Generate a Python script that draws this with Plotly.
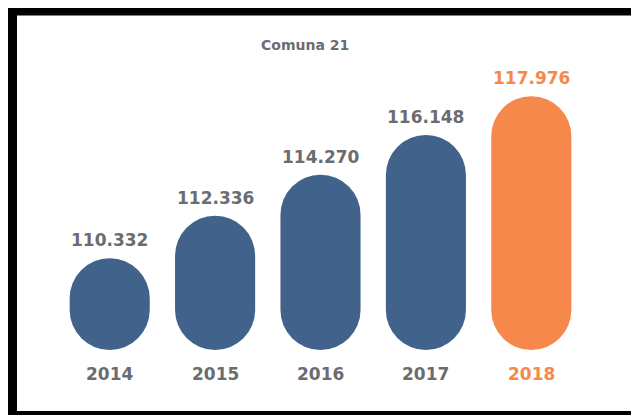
import plotly.graph_objects as go

# DATA
years = ["2014", "2015", "2016", "2017", "2018"]
values = [110.332, 112.336, 114.270, 116.148, 117.976]
labels = ["110.332", "112.336", "114.270", "116.148", "117.976"]
title_text = "Comuna 21"

BLUE = "#41628a"
ORANGE = "#f5884a"
GREY = "#6b6c70"
colors = [BLUE, BLUE, BLUE, BLUE, ORANGE]
text_colors = [GREY, GREY, GREY, GREY, ORANGE]

base = 106.0
W, H = 639, 415
# page body has an 8px margin, so everything is laid out 8px up/left
ml, mr, mt, mb = 49, 63, 12, 73
pw, ph = W - ml - mr, H - mt - mb

fig = go.Figure()
# bars with an explicit base get all four corners rounded -> pill shape
fig.add_trace(go.Bar(
    x=years, y=[v - base for v in values], base=base,
    marker=dict(color=colors, cornerradius="50%", line=dict(width=0)),
    width=0.76, hoverinfo="skip",
))

# value labels above, year labels below
for i, (v, lab, c) in enumerate(zip(values, labels, text_colors)):
    fig.add_annotation(x=i, y=v, text=f"<b>{lab}</b>", showarrow=False,
                       yanchor="bottom", yshift=6,
                       font=dict(family="DejaVu Sans", size=17, color=c))
    fig.add_annotation(x=i, y=base + 0.01, text=f"<b>{years[i]}</b>",
                       showarrow=False, yanchor="top", yshift=-12,
                       font=dict(family="DejaVu Sans", size=17, color=c))

fig.add_annotation(x=(297 - ml) / pw, xref="paper", xanchor="center",
                   y=(mt + ph - 37) / ph, yref="paper", yanchor="middle",
                   text=f"<b>{title_text}</b>", showarrow=False,
                   font=dict(family="DejaVu Sans", size=14, color=GREY))

# black frame around the picture
fig.add_shape(type="rect", xref="paper", yref="paper",
              x0=(4.5 - ml) / pw, x1=(660 - ml) / pw,
              y0=(mt + ph - 407.5) / ph, y1=(mt + ph - 3) / ph,
              line=dict(color="black", width=9), fillcolor="rgba(0,0,0,0)")

fig.update_layout(
    width=W, height=H,
    margin=dict(l=ml, r=mr, t=mt, b=mb),
    showlegend=False,
    plot_bgcolor="white", paper_bgcolor="white",
    xaxis=dict(visible=False, type="category", range=[-0.5, 4.5]),
    yaxis=dict(visible=False, range=[base, base + ph / 21.19]),
)

fig.write_html("out.html")
